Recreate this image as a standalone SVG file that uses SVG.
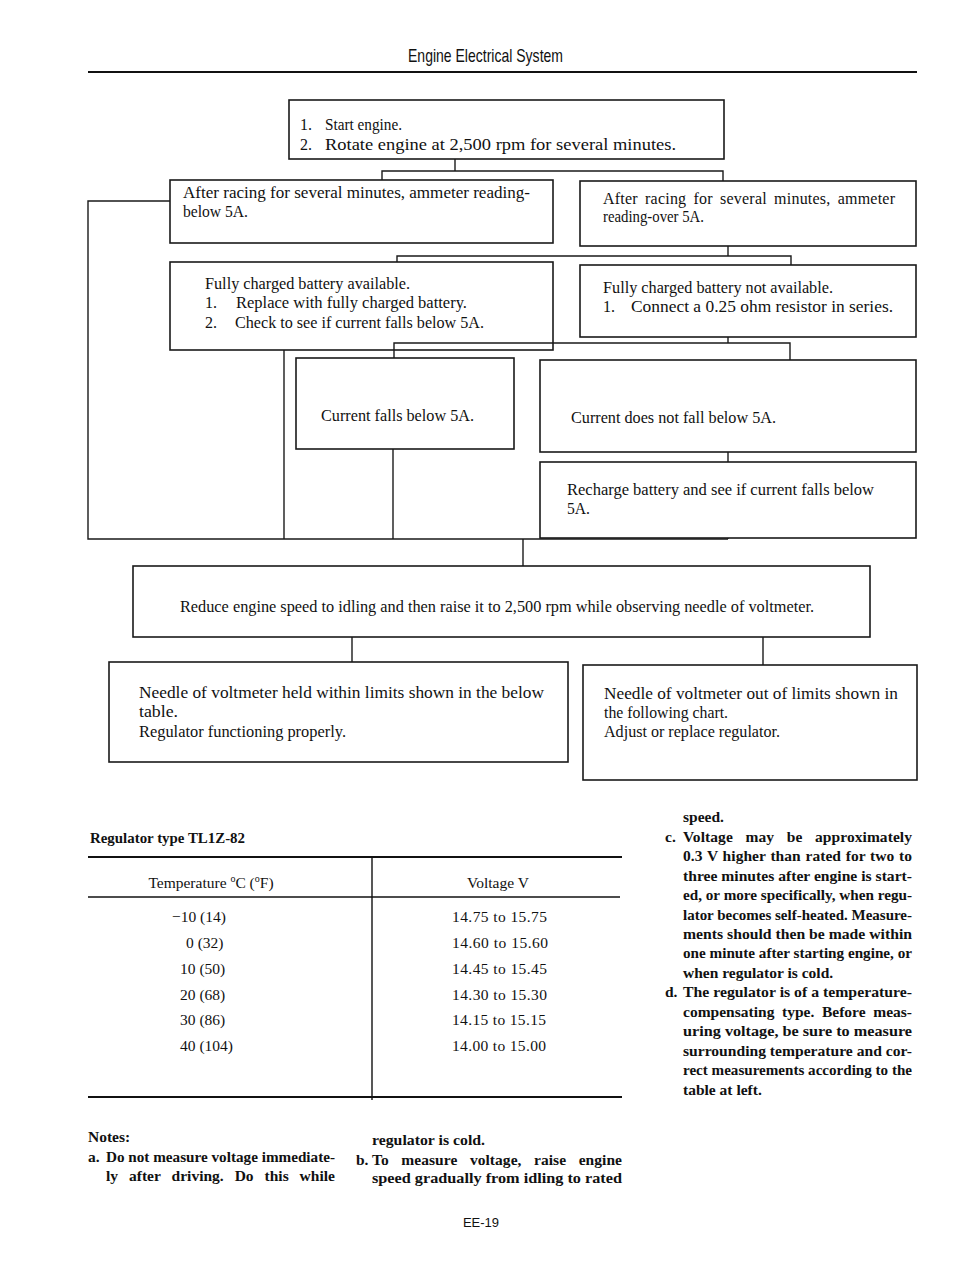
<svg xmlns="http://www.w3.org/2000/svg" width="960" height="1268" viewBox="0 0 960 1268">
<style>
.bx{fill:none;stroke:#1a1a1a;stroke-width:1.6}
.ln{fill:none;stroke:#1a1a1a;stroke-width:1.4}
.ft{font-family:"Liberation Serif","Times New Roman",serif;font-size:16px;fill:#111}
.nt{font-family:"Liberation Serif","Times New Roman",serif;font-size:15.5px;font-weight:bold;fill:#111}
.tb{font-family:"Liberation Serif","Times New Roman",serif;font-size:15.5px;fill:#111}
.hd{font-family:"Liberation Sans Narrow","Liberation Sans",Arial,sans-serif;font-size:19px;fill:#111}
.pg{font-family:"Liberation Sans Narrow","Liberation Sans",Arial,sans-serif;font-size:13px;fill:#111}
.rule{stroke:#111;stroke-width:2.2}
</style>
<rect width="960" height="1268" fill="#fff"/>
<text class="hd" x="408" y="62" textLength="155" lengthAdjust="spacingAndGlyphs">Engine Electrical System</text>
<line class="rule" x1="88" y1="72" x2="917" y2="72"/>

<g id="connectors">
<polyline class="ln" points="455,159 455,171"/>
<polyline class="ln" points="382,180 382,171 723,171 723,181"/>
<polyline class="ln" points="170,201 88,201 88,539 728,539"/>
<polyline class="ln" points="728,246 728,256"/>
<polyline class="ln" points="397,262 397,256 791,256 791,265"/>
<polyline class="ln" points="284,350 284,539"/>
<polyline class="ln" points="728,337 728,343"/>
<polyline class="ln" points="394,358 394,343 790,343 790,360"/>
<polyline class="ln" points="393,449 393,539"/>
<polyline class="ln" points="728,452 728,462"/>
<polyline class="ln" points="728,538 728,539"/>
<polyline class="ln" points="523,539 523,566"/>
<polyline class="ln" points="352,637 352,662"/>
<polyline class="ln" points="763,637 763,665"/>
</g>

<g id="n1">
<rect class="bx" x="289" y="100" width="435" height="59"/>
<text class="ft" x="300" y="130">1.</text>
<text class="ft" x="325" y="130" textLength="77" lengthAdjust="spacingAndGlyphs">Start engine.</text>
<text class="ft" x="300" y="150">2.</text>
<text class="ft" x="325" y="150" textLength="351" lengthAdjust="spacingAndGlyphs">Rotate engine at 2,500 rpm for several minutes.</text>
</g>
<g id="n2">
<rect class="bx" x="170" y="180" width="383" height="63"/>
<text class="ft" x="183" y="198" textLength="347" lengthAdjust="spacingAndGlyphs">After racing for several minutes, ammeter reading-</text>
<text class="ft" x="183" y="217" textLength="65" lengthAdjust="spacingAndGlyphs">below 5A.</text>
</g>
<g id="n3">
<rect class="bx" x="580" y="181" width="336" height="65"/>
<text class="ft" x="603" y="204" textLength="292" lengthAdjust="spacing" word-spacing="3">After racing for several minutes, ammeter</text>
<text class="ft" x="603" y="222" textLength="101" lengthAdjust="spacingAndGlyphs">reading-over 5A.</text>
</g>
<g id="n4">
<rect class="bx" x="170" y="262" width="383" height="88"/>
<text class="ft" x="205" y="289" textLength="205" lengthAdjust="spacingAndGlyphs">Fully charged battery available.</text>
<text class="ft" x="205" y="308">1.</text>
<text class="ft" x="236" y="308" textLength="231" lengthAdjust="spacingAndGlyphs">Replace with fully charged battery.</text>
<text class="ft" x="205" y="328">2.</text>
<text class="ft" x="235" y="328" textLength="249" lengthAdjust="spacingAndGlyphs">Check to see if current falls below 5A.</text>
</g>
<g id="n5">
<rect class="bx" x="580" y="265" width="336" height="72"/>
<text class="ft" x="603" y="293" textLength="230" lengthAdjust="spacingAndGlyphs">Fully charged battery not available.</text>
<text class="ft" x="603" y="312">1.</text>
<text class="ft" x="631" y="312" textLength="262" lengthAdjust="spacingAndGlyphs">Connect a 0.25 ohm resistor in series.</text>
</g>
<g id="n6">
<rect class="bx" x="296" y="358" width="218" height="91"/>
<text class="ft" x="321" y="421" textLength="153" lengthAdjust="spacingAndGlyphs">Current falls below 5A.</text>
</g>
<g id="n7">
<rect class="bx" x="540" y="360" width="376" height="92"/>
<text class="ft" x="571" y="423" textLength="205" lengthAdjust="spacingAndGlyphs">Current does not fall below 5A.</text>
</g>
<g id="n8">
<rect class="bx" x="540" y="462" width="376" height="76"/>
<text class="ft" x="567" y="495" textLength="307" lengthAdjust="spacingAndGlyphs">Recharge battery and see if current falls below</text>
<text class="ft" x="567" y="514" textLength="23" lengthAdjust="spacingAndGlyphs">5A.</text>
</g>
<g id="n9">
<rect class="bx" x="133" y="566" width="737" height="71"/>
<text class="ft" x="180" y="612" textLength="634" lengthAdjust="spacingAndGlyphs">Reduce engine speed to idling and then raise it to 2,500 rpm while observing needle of voltmeter.</text>
</g>
<g id="n10">
<rect class="bx" x="109" y="662" width="459" height="100"/>
<text class="ft" x="139" y="698" textLength="405" lengthAdjust="spacingAndGlyphs">Needle of voltmeter held within limits shown in the below</text>
<text class="ft" x="139" y="717" textLength="39" lengthAdjust="spacingAndGlyphs">table.</text>
<text class="ft" x="139" y="737" textLength="207" lengthAdjust="spacingAndGlyphs">Regulator functioning properly.</text>
</g>
<g id="n11">
<rect class="bx" x="583" y="665" width="334" height="115"/>
<text class="ft" x="604" y="699" textLength="294" lengthAdjust="spacingAndGlyphs">Needle of voltmeter out of limits shown in</text>
<text class="ft" x="604" y="718" textLength="124" lengthAdjust="spacingAndGlyphs">the following chart.</text>
<text class="ft" x="604" y="737" textLength="176" lengthAdjust="spacingAndGlyphs">Adjust or replace regulator.</text>
</g>

<g id="table">
<text class="nt" x="90" y="843" textLength="155" lengthAdjust="spacingAndGlyphs">Regulator type TL1Z-82</text>
<line class="rule" x1="88" y1="857" x2="622" y2="857"/>
<line x1="372" y1="857" x2="372" y2="1100" stroke="#111" stroke-width="1.4"/>
<text class="tb" x="211" y="888" text-anchor="middle">Temperature <tspan font-size="10" dy="-6">o</tspan><tspan dy="6">C (</tspan><tspan font-size="10" dy="-6">o</tspan><tspan dy="6">F)</tspan></text>
<text class="tb" x="498" y="888" text-anchor="middle">Voltage V</text>
<line x1="88" y1="897" x2="620" y2="897" stroke="#111" stroke-width="1.6"/>
<text class="tb" x="172" y="922">−10 (14)</text>
<text class="tb" x="186" y="948">0 (32)</text>
<text class="tb" x="180" y="974">10 (50)</text>
<text class="tb" x="180" y="1000">20 (68)</text>
<text class="tb" x="180" y="1025">30 (86)</text>
<text class="tb" x="180" y="1051">40 (104)</text>
<text class="tb" x="452" y="922" textLength="95" lengthAdjust="spacing">14.75 to 15.75</text>
<text class="tb" x="452" y="948" textLength="96" lengthAdjust="spacing">14.60 to 15.60</text>
<text class="tb" x="452" y="974" textLength="95" lengthAdjust="spacing">14.45 to 15.45</text>
<text class="tb" x="452" y="1000" textLength="95" lengthAdjust="spacing">14.30 to 15.30</text>
<text class="tb" x="452" y="1025" textLength="94" lengthAdjust="spacing">14.15 to 15.15</text>
<text class="tb" x="452" y="1051" textLength="94" lengthAdjust="spacing">14.00 to 15.00</text>
<line class="rule" x1="88" y1="1097" x2="622" y2="1097"/>
</g>

<g id="notes">
<text class="nt" x="88" y="1142">Notes:</text>
<text class="nt" x="88" y="1162">a.</text>
<text class="nt" x="106" y="1162" textLength="229" lengthAdjust="spacingAndGlyphs">Do not measure voltage immediate-</text>
<text class="nt" x="106" y="1181" word-spacing="7" textLength="229" lengthAdjust="spacing">ly after driving. Do this while</text>
<text class="nt" x="372" y="1145" textLength="113" lengthAdjust="spacingAndGlyphs">regulator is cold.</text>
<text class="nt" x="356" y="1165">b.</text>
<text class="nt" x="372" y="1165" word-spacing="8.6" textLength="250" lengthAdjust="spacing">To measure voltage, raise engine</text>
<text class="nt" x="372" y="1183" textLength="250" lengthAdjust="spacingAndGlyphs">speed gradually from idling to rated</text>

<text class="nt" x="683" y="822">speed.</text>
<text class="nt" x="665" y="842">c.</text>
<text class="nt" x="683" y="842" word-spacing="8.7" textLength="229" lengthAdjust="spacing">Voltage may be approximately</text>
<text class="nt" x="683" y="861" word-spacing="0.8" textLength="229" lengthAdjust="spacing">0.3 V higher than rated for two to</text>
<text class="nt" x="683" y="881" textLength="229" lengthAdjust="spacingAndGlyphs">three minutes after engine is start-</text>
<text class="nt" x="683" y="900" textLength="229" lengthAdjust="spacingAndGlyphs">ed, or more specifically, when regu-</text>
<text class="nt" x="683" y="920" textLength="229" lengthAdjust="spacingAndGlyphs">lator becomes self-heated. Measure-</text>
<text class="nt" x="683" y="939" textLength="229" lengthAdjust="spacingAndGlyphs">ments should then be made within</text>
<text class="nt" x="683" y="958" textLength="229" lengthAdjust="spacingAndGlyphs">one minute after starting engine, or</text>
<text class="nt" x="683" y="978">when regulator is cold.</text>
<text class="nt" x="665" y="997">d.</text>
<text class="nt" x="683" y="997" textLength="229" lengthAdjust="spacingAndGlyphs">The regulator is of a temperature-</text>
<text class="nt" x="683" y="1017" word-spacing="3.7" textLength="229" lengthAdjust="spacing">compensating type. Before meas-</text>
<text class="nt" x="683" y="1036" textLength="229" lengthAdjust="spacingAndGlyphs">uring voltage, be sure to measure</text>
<text class="nt" x="683" y="1056" textLength="229" lengthAdjust="spacingAndGlyphs">surrounding temperature and cor-</text>
<text class="nt" x="683" y="1075" textLength="229" lengthAdjust="spacingAndGlyphs">rect measurements according to the</text>
<text class="nt" x="683" y="1095">table at left.</text>
</g>
<text class="pg" x="481" y="1227" text-anchor="middle">EE-19</text>
</svg>
